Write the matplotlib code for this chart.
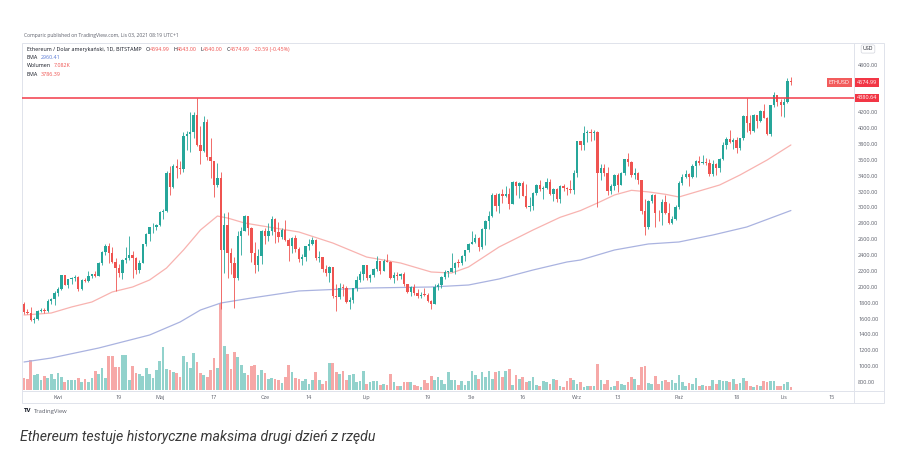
import numpy as np
import pandas as pd
import matplotlib
matplotlib.use('Agg')
import matplotlib.pyplot as plt
import matplotlib.transforms as mtransforms
from matplotlib.patches import Rectangle
from matplotlib.lines import Line2D

W, H = 903, 468

# daily candles ETH/USD (Bitstamp), 22 Mar .. 3 Nov 2021
start = '2021-03-22'
end = '2021-11-03'
first_open = 1787
closes = [
    1681, 1670, 1583, 1588, 1700, 1713, 1690, 1817, 1846, 1919,
    1977, 2143, 2028, 2093, 2107, 2118, 1971, 2088, 2072, 2135, 2158, 2139, 2299, 2432, 2514,
    2422, 2317, 2235, 2171, 2332, 2357, 2403, 2363, 2213, 2302, 2534, 2662, 2747, 2757, 2773,
    2945, 2950, 3431, 3253, 3522, 3490, 3484, 3902, 3928, 3952, 4168, 3785, 3715, 4079, 3638, 3588,
    3282, 3374, 2460, 2784, 2430, 2295, 2109, 2643, 2706, 2888, 2736, 2419, 2280, 2386, 2706,
    2634, 2707, 2855, 2688, 2630, 2715, 2590, 2517, 2609, 2471, 2353, 2372, 2508, 2537, 2590,
    2368, 2372, 2228, 2178, 2246, 1888, 1875, 1990, 1989, 1809, 1829, 1983, 2080, 2166, 2275,
    2113, 2150, 2226, 2321, 2198, 2324, 2316, 2116, 2147, 2139, 2155, 2034, 1940, 1995, 1916, 1880,
    1899, 1895, 1820, 1786, 1994, 2026, 2124, 2187, 2191, 2233, 2300, 2299, 2383, 2462, 2536,
    2561, 2610, 2502, 2725, 2827, 2890, 3158, 3013, 3163, 3141, 3164, 3045, 3323, 3265, 3310, 3147,
    3011, 3017, 3180, 3286, 3227, 3242, 3321, 3174, 3227, 3100, 3268, 3240, 3227, 3225, 3433,
    3834, 3791, 3942, 3942, 3938, 3950, 3428, 3500, 3432, 3212, 3264, 3406, 3288, 3436, 3609,
    3572, 3410, 3432, 3339, 2951, 2759, 3079, 3158, 2930, 2925, 3062, 2935, 2806, 2850, 3001,
    3307, 3389, 3418, 3380, 3518, 3587, 3563, 3575, 3562, 3415, 3545, 3490, 3605, 3788, 3864, 3828,
    3847, 3745, 3876, 4157, 4058, 3965, 4170, 4088, 4220, 4130, 3925, 4285, 4420, 4325, 4288,
    4325, 4595, 4574.99,
]
highs = [
    1813, 1724, 1741, 1625, 1703, 1731, 1730, 1840, 1862, 1945,
    1996, 2146, 2145, 2102, 2124, 2152, 2134, 2093, 2106, 2195, 2162, 2200, 2315, 2446, 2540,
    2548, 2497, 2357, 2283, 2350, 2495, 2645, 2445, 2372, 2335, 2540, 2680, 2757, 2797, 2795,
    2960, 2985, 3460, 3527, 3541, 3610, 3588, 3950, 3968, 4200, 4200, 4380, 4030, 4145, 4118, 3870,
    3588, 3558, 3440, 2932, 2938, 2488, 2380, 2700, 2750, 2910, 2890, 2758, 2570, 2470, 2714,
    2740, 2803, 2892, 2860, 2816, 2745, 2845, 2620, 2630, 2650, 2495, 2412, 2518, 2600, 2630,
    2597, 2445, 2380, 2270, 2265, 2252, 2036, 2045, 2037, 2012, 1871, 1988, 2132, 2200, 2280,
    2280, 2160, 2237, 2387, 2324, 2349, 2408, 2320, 2190, 2192, 2170, 2190, 2040, 2010, 2033, 1975,
    1932, 1990, 1918, 1838, 2030, 2049, 2130, 2210, 2197, 2430, 2315, 2345, 2397, 2468, 2550,
    2700, 2665, 2630, 2745, 2845, 2950, 3185, 3185, 3180, 3235, 3275, 3240, 3330, 3330, 3325, 3335,
    3290, 3125, 3190, 3295, 3340, 3275, 3375, 3360, 3250, 3250, 3280, 3300, 3260, 3350, 3470,
    3840, 3840, 4027, 3975, 3985, 3970, 3960, 3550, 3550, 3515, 3290, 3420, 3430, 3450, 3615,
    3680, 3590, 3490, 3440, 3350, 3100, 3090, 3170, 3170, 2970, 3110, 3150, 3060, 2895, 3030,
    3330, 3420, 3470, 3430, 3550, 3600, 3650, 3660, 3620, 3610, 3600, 3560, 3620, 3820, 3890, 3975,
    3880, 3890, 3880, 4170, 4375, 4160, 4180, 4170, 4230, 4300, 4140, 4290, 4450, 4420, 4370,
    4380, 4635, 4643,
]
lows = [
    1660, 1651, 1568, 1546, 1584, 1682, 1667, 1678, 1780, 1770,
    1880, 1962, 2016, 1986, 2035, 2077, 1950, 1964, 2057, 2063, 2110, 2126, 2135, 2278, 2401,
    2300, 2303, 1950, 2128, 2092, 2305, 2340, 2110, 2160, 2170, 2297, 2510, 2580, 2673, 2717,
    2762, 2855, 2945, 3162, 3245, 3374, 3420, 3452, 3725, 3700, 3880, 3768, 3550, 3700, 3600, 3376,
    3130, 3262, 1725, 2170, 2111, 2160, 1730, 2080, 2395, 2705, 2650, 2312, 2176, 2202, 2286,
    2540, 2581, 2657, 2550, 2560, 2605, 2580, 2323, 2430, 2440, 2313, 2275, 2322, 2460, 2530,
    2337, 2312, 2188, 2133, 2055, 1862, 1700, 1845, 1880, 1790, 1718, 1800, 1944, 2063, 2090,
    2085, 2060, 2120, 2194, 2160, 2198, 2310, 2095, 2050, 2080, 2100, 2010, 1925, 1880, 1890, 1860,
    1855, 1880, 1806, 1718, 1780, 1955, 1986, 2100, 2125, 2180, 2160, 2252, 2275, 2320, 2435,
    2534, 2546, 2452, 2476, 2530, 2725, 2877, 2950, 2925, 3060, 3130, 2980, 3040, 3160, 3120, 3140,
    2990, 2955, 2970, 3160, 3210, 3110, 3230, 3150, 3080, 3070, 3060, 3210, 3160, 3180, 3170,
    3380, 3720, 3720, 3830, 3840, 3850, 3010, 3350, 3400, 3160, 3170, 3220, 3200, 3280, 3410,
    3520, 3380, 3360, 3300, 2920, 2650, 2730, 3050, 2750, 2830, 2780, 2920, 2790, 2790, 2840,
    2975, 3280, 3370, 3270, 3370, 3380, 3540, 3550, 3540, 3400, 3400, 3410, 3440, 3600, 3740, 3810,
    3730, 3680, 3720, 3850, 3950, 3920, 3950, 4000, 4080, 4120, 3910, 3900, 4270, 4280, 4150,
    4140, 4320, 4540,
]
# volume, thousands of ETH
volumes_k = [
    28, 26, 71, 35, 38, 24, 33, 28, 38, 26, 40, 31, 19, 24, 24, 24, 28, 19, 26, 19,
    28, 45, 38, 52, 28, 80, 80, 54, 54, 83, 83, 24, 57, 40, 38, 33, 52, 38, 28, 47,
    68, 102, 50, 47, 42, 40, 31, 80, 66, 52, 87, 66, 40, 35, 31, 47, 76, 52,
    205, 104, 85, 50, 90, 78, 59, 40, 35, 57, 59, 35, 47, 40, 26, 28, 26, 24, 17, 31,
    59, 42, 28, 26, 21, 26, 14, 24, 42, 24, 14, 21, 64, 64, 42, 38, 45, 24, 35, 38,
    19, 21, 45, 14, 19, 21, 21, 12, 14, 12, 38, 19, 9, 9, 19, 19, 19, 12, 9,
    7, 24, 17, 33, 24, 31, 24, 14, 42, 24, 24, 12, 21, 12, 21, 45, 35, 26, 42, 31,
    45, 26, 42, 45, 31, 45, 50, 12, 35, 26, 31, 19, 21, 31, 12, 9, 21, 19, 14, 26,
    24, 9, 7, 21, 28, 24, 14, 19, 7, 9, 9, 9, 61, 24, 14, 24, 7, 9, 21,
    14, 12, 19, 31, 26, 12, 54, 57, 17, 14, 33, 14, 21, 24, 19, 24, 17, 35, 19, 9,
    17, 14, 28, 9, 12, 9, 9, 24, 14, 24, 21, 21, 19, 26, 14, 17, 28, 21, 9, 7,
    12, 9, 21, 19, 21, 21, 9, 9, 14, 19, 7.082,
]
# EMA lines (day index -> value)
ema50_day = [0, 8, 14, 20, 26, 32, 37, 42, 47, 52, 57, 60, 65, 72, 81, 91, 101, 111, 120,
             126, 131, 140, 150, 158, 164, 169, 174, 179, 184, 189, 193, 198, 205, 211, 219, 226]
ema50_val = [1644, 1669, 1745, 1808, 1934, 1997, 2085, 2236, 2463, 2715, 2891, 2866, 2803,
             2753, 2690, 2551, 2374, 2299, 2186, 2173, 2249, 2501, 2715, 2875, 2960, 3055,
             3156, 3215, 3195, 3165, 3131, 3194, 3282, 3408, 3597, 3786.39]
ema200_day = [0, 8, 22, 37, 46, 52, 58, 67, 81, 101, 120, 131, 140, 150, 160, 164, 174,
              184, 193, 203, 213, 226]
ema200_val = [1052, 1102, 1228, 1392, 1556, 1707, 1795, 1858, 1947, 1984, 1997, 2022, 2098,
              2211, 2312, 2337, 2463, 2539, 2564, 2652, 2753, 2960.41]

ath_level = 4380.64
last_close = 4574.99
price_ticks = list(range(800, 4801, 200))
tick_dates = ['2021-04-01', '2021-04-19', '2021-05-01', '2021-05-17', '2021-06-01',
              '2021-06-14', '2021-07-01', '2021-07-19', '2021-08-01', '2021-08-16',
              '2021-09-01', '2021-09-13', '2021-10-01', '2021-10-18', '2021-11-01',
              '2021-11-15']
tick_labels = ['Kwi', '19', 'Maj', '17', 'Cze', '14', 'Lip', '19', 'Sie', '16',
               'Wrz', '13', 'Paź', '18', 'Lis', '15']

UP = '#26a69a'
DOWN = '#ef5350'
LINE_RED = '#f23645'
BORDER = '#e0e3eb'
GREY = '#5d606b'
SMALL_FONT = 'Open Sans'


def fx(px):
    return px / W


def fy(py):
    return 1 - py / H


dates = pd.date_range(start, end, freq='D')
n = len(dates)
x = np.arange(n)
c = np.array(closes, dtype=float)
o = np.array([first_open] + closes[:-1], dtype=float)  # bitstamp opens at prior close
hi = np.array(highs, dtype=float)
lo = np.array(lows, dtype=float)
up = c >= o
cols = np.where(up, UP, DOWN)

fig = plt.figure(figsize=(W / 100, H / 100), dpi=100)
fig.patch.set_facecolor('white')

rect = [fx(22), fy(390), 832 / W, 347 / H]
axv = fig.add_axes(rect, zorder=0)
ax = fig.add_axes(rect, zorder=1, sharex=axv)
ax.patch.set_visible(False)

# volume
axv.bar(x, volumes_k, width=0.8, color=cols, alpha=0.5, linewidth=0)
axv.set_ylim(0, 819)
axv.axis('off')

# EMAs
ax.plot(ema200_day, ema200_val, color='#aab3e0', lw=0.9, solid_capstyle='round', zorder=2)
ax.plot(ema50_day, ema50_val, color='#f8b3b0', lw=0.9, solid_capstyle='round', zorder=2)

# candles
body = np.maximum(np.abs(c - o), 10)
ax.vlines(x, lo, hi, colors=cols, lw=0.6, zorder=3)
ax.bar(x, body, bottom=np.minimum(o, c), width=0.7, color=cols, linewidth=0, zorder=4)

# all-time-high line
ax.axhline(ath_level, color=LINE_RED, lw=1.2, alpha=0.9, zorder=5)

ax.set_xlim(-0.59, 244.6)
ax.set_ylim(699.2, 5071)
for s in ax.spines.values():
    s.set_visible(False)

ax.yaxis.tick_right()
ax.set_yticks(price_ticks)
ax.set_yticklabels([f'{p:.2f}' for p in price_ticks])
ax.tick_params(axis='y', length=0, pad=3, labelsize=4, labelcolor=GREY)

tick_pos = [(pd.Timestamp(d) - dates[0]).days for d in tick_dates]
ax.set_xticks(tick_pos)
ax.set_xticklabels(tick_labels)
ax.tick_params(axis='x', length=0, pad=3.4, labelsize=4, labelcolor=GREY)
for lab in ax.get_xticklabels() + ax.get_yticklabels():
    lab.set_family(SMALL_FONT)

# price labels on the right scale
blend = mtransforms.blended_transform_factory(ax.transAxes, ax.transData)
box = dict(boxstyle='square,pad=0.3', fc=LINE_RED, ec='none')
ax.text(1 + 3 / 832, last_close, f'{last_close:.2f}', transform=blend, ha='left',
        va='center', fontsize=4, color='white', family=SMALL_FONT, bbox=box,
        clip_on=False, zorder=6)
ax.text(1 + 3 / 832, ath_level, f'{ath_level:.2f}', transform=blend, ha='left',
        va='center', fontsize=4, color='white', family=SMALL_FONT, bbox=box,
        clip_on=False, zorder=6)
ax.text(1 - 4 / 832, last_close, 'ETHUSD', transform=blend, ha='right', va='center',
        fontsize=4, color='white', family=SMALL_FONT,
        bbox=dict(boxstyle='square,pad=0.3', fc='#f25c5c', ec='none'),
        clip_on=False, zorder=6)

# frame of the tradingview widget
fig.add_artist(Rectangle((fx(22), fy(403)), 862 / W, 360 / H, transform=fig.transFigure,
                         fill=False, ec=BORDER, lw=0.7))
fig.add_artist(Line2D([fx(854), fx(854)], [fy(43), fy(403)], transform=fig.transFigure,
                      color=BORDER, lw=0.7))
fig.add_artist(Line2D([fx(22), fx(884)], [fy(390.5), fy(390.5)], transform=fig.transFigure,
                      color=BORDER, lw=0.7))

fig.text(fx(868), fy(49), 'USD', ha='center', va='center', fontsize=3.8, color='#131722',
         family=SMALL_FONT,
         bbox=dict(boxstyle='round,pad=0.3', fc='white', ec='#d1d4dc', lw=0.5))

renderer = fig.canvas.get_renderer()


def text_run(x_px, y_px, parts, size):
    """Draw coloured pieces of text one after another."""
    xp = x_px
    for s, color, gap in parts:
        t = fig.text(fx(xp), fy(y_px), s, fontsize=size, color=color, va='center',
                     ha='left', family=SMALL_FONT)
        xp += t.get_window_extent(renderer).width + gap


DARK = '#131722'
fig.text(fx(24), fy(36), 'Comparic published on TradingView.com, Lis 03, 2021 08:19 UTC+1',
         fontsize=3.6, color=GREY, va='center', family=SMALL_FONT)
text_run(27, 49.3, [('Ethereum / Dolar amerykański, 1D, BITSTAMP', DARK, 4),
                    ('O', DARK, 0), ('4594.99', DOWN, 3.5),
                    ('H', DARK, 0), ('4643.00', DOWN, 3.5),
                    ('L', DARK, 0), ('4540.00', DOWN, 3.5),
                    ('C', DARK, 0), ('4574.99', DOWN, 3.5),
                    ('-20.59 (-0.45%)', DOWN, 0)], 3.9)
text_run(27, 57.5, [('EMA', DARK, 3), ('2960.41', '#5b7bd5', 0)], 3.9)
text_run(27, 65.8, [('Wolumen', DARK, 3), ('7.082K', DOWN, 0)], 3.9)
text_run(27, 74.0, [('EMA', DARK, 3), ('3786.39', DOWN, 0)], 3.9)

# tradingview mark
fig.text(fx(24), fy(411), 'TV', fontsize=4.4, fontweight='bold', color=DARK, va='center',
         family=SMALL_FONT)
fig.text(fx(34), fy(411), 'TradingView', fontsize=4.2, color=GREY, va='center',
         family=SMALL_FONT)

fig.text(fx(20), fy(437), 'Ethereum testuje historyczne maksima drugi dzień z rzędu',
         fontsize=10.2, style='italic', family='Roboto', color='#3a3a3a', va='center')

fig.savefig('out.png', dpi=100, facecolor='white')
